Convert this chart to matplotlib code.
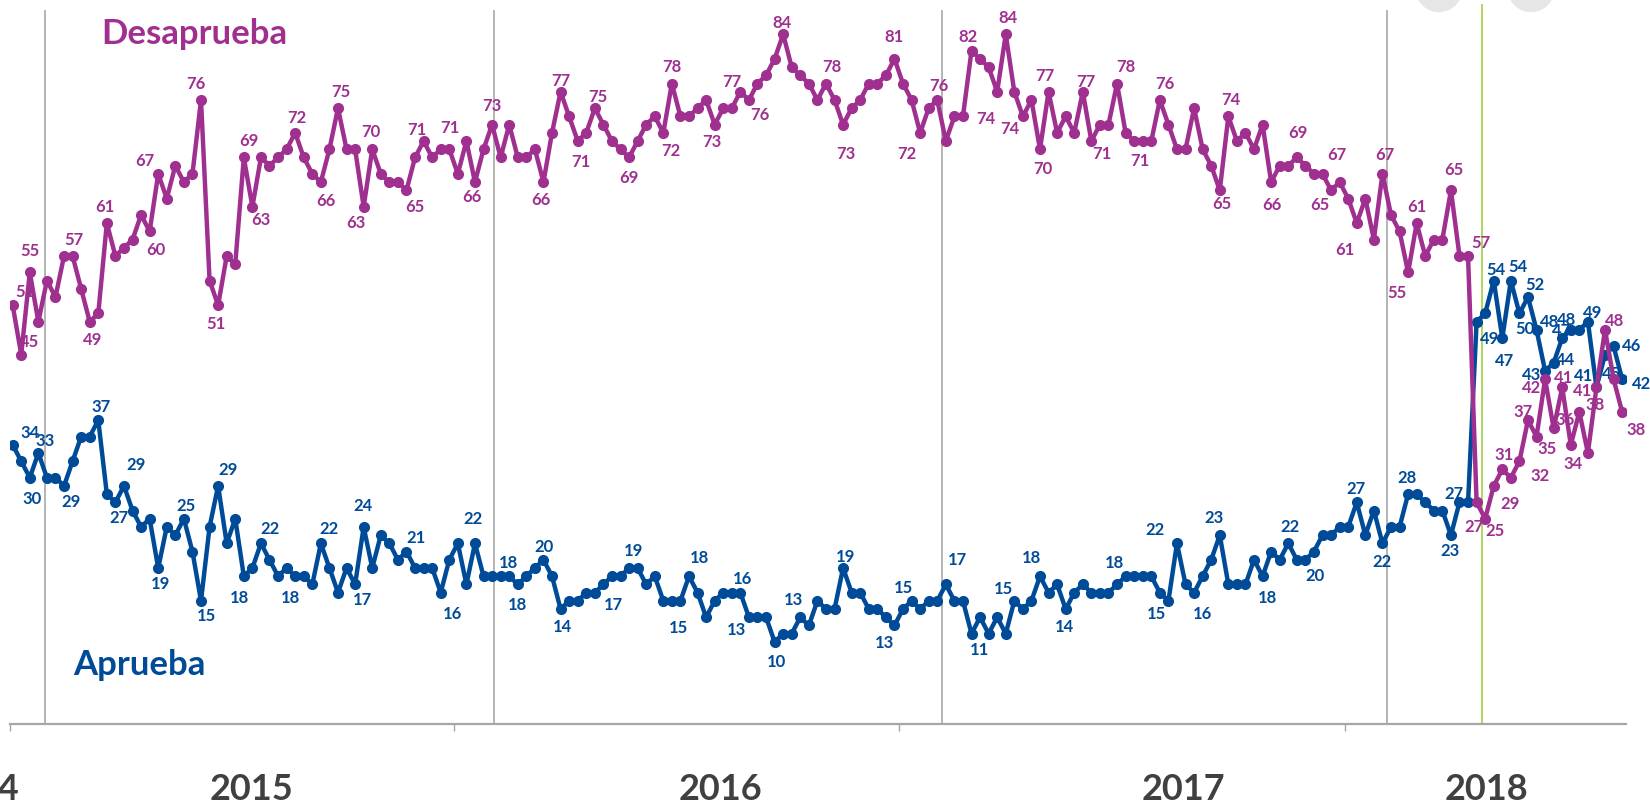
import numpy as np
import matplotlib
matplotlib.use('Agg')
import matplotlib.pyplot as plt
from matplotlib.patches import Ellipse

"""Aprobacion / desaprobacion semanal, 2014-2018"""

# weekly values, one per poll
desaprueba = [51, 45, 55, 49, 54, 52, 57, 57, 53, 49,
              50, 61, 57, 58, 59, 62, 60, 67, 64, 68,
              66, 67, 76, 54, 51, 57, 56, 69, 63, 69,
              68, 69, 70, 72, 69, 67, 66, 70, 75, 70,
              70, 63, 70, 67, 66, 66, 65, 69, 71, 69,
              70, 70, 67, 71, 66, 70, 73, 69, 73, 69,
              69, 70, 66, 72, 77, 74, 71, 72, 75, 73,
              71, 70, 69, 71, 73, 74, 72, 78, 74, 74,
              75, 76, 73, 75, 75, 77, 76, 78, 79, 81,
              84, 80, 79, 78, 76, 78, 76, 73, 75, 76,
              78, 78, 79, 81, 78, 76, 72, 75, 76, 71,
              74, 74, 82, 81, 80, 77, 84, 77, 74, 76,
              70, 77, 72, 74, 72, 77, 71, 73, 73, 78,
              72, 71, 71, 71, 76, 73, 70, 70, 75, 70,
              68, 65, 74, 71, 72, 70, 73, 66, 68, 68,
              69, 68, 67, 67, 65, 66, 64, 61, 64, 59,
              67, 62, 60, 55, 61, 57, 59, 59, 65, 57,
              57, 27, 25, 29, 31, 30, 32, 37, 35, 42,
              36, 41, 34, 38, 33, 41, 48, 42, 38]

aprueba = [34, 32, 30, 33, 30, 30, 29, 32, 35, 35,
           37, 28, 27, 29, 26, 24, 25, 19, 24, 23,
           25, 21, 15, 24, 29, 22, 25, 18, 19, 22,
           20, 18, 19, 18, 18, 17, 22, 19, 16, 19,
           17, 24, 19, 23, 22, 20, 21, 19, 19, 19,
           16, 20, 22, 17, 22, 18, 18, 18, 18, 17,
           18, 19, 20, 18, 14, 15, 15, 16, 16, 17,
           18, 18, 19, 19, 17, 18, 15, 15, 15, 18,
           16, 13, 15, 16, 16, 16, 13, 13, 13, 10,
           11, 11, 13, 12, 15, 14, 14, 19, 16, 16,
           14, 14, 13, 12, 14, 15, 14, 15, 15, 17,
           15, 15, 11, 13, 11, 13, 11, 15, 14, 15,
           18, 16, 17, 14, 16, 17, 16, 16, 16, 17,
           18, 18, 18, 18, 16, 15, 22, 17, 16, 18,
           20, 23, 17, 17, 17, 20, 18, 21, 20, 22,
           20, 20, 21, 23, 23, 24, 24, 27, 23, 26,
           22, 24, 24, 28, 28, 27, 26, 26, 23, 27,
           27, 49, 50, 54, 47, 54, 50, 52, 48, 43,
           44, 47, 48, 48, 49, 41, 45, 46, 42]

# which weeks carry a value label (1-based week, dx, dy in pixels, dy>0 = down)
desaprueba_labels = [(1, 12, -14), (2, 8, -14), (3, 0, -22), (8, 1, -17), (10, 3, 17),
                     (12, -2, -17), (17, 6, 18), (18, -13, -14), (23, -5, -17), (25, -2, 18),
                     (28, 5, -17), (29, 8, 12), (34, 2, -16), (37, 5, 18), (39, 3, -17),
                     (42, -8, 15), (43, -1, -18), (47, 8, 16), (49, -7, -12), (54, -17, -14),
                     (55, -3, 14), (57, 0, -20), (63, -3, 17), (65, 0, -12), (67, 3, 20),
                     (69, 3, -12), (73, 0, 20), (77, 8, 17), (78, 0, -18), (83, -3, 16),
                     (86, -8, -11), (87, 11, 14), (91, -1, -12), (96, 6, -18), (98, 3, 28),
                     (104, 0, -23), (107, -13, 20), (109, 2, -15), (112, 23, 2), (113, -4, -15),
                     (117, 2, -17), (119, -13, 12), (121, 3, 19), (122, -4, -17), (126, 3, -11),
                     (127, 11, 12), (130, 9, -18), (133, -3, 19), (135, 5, -17), (142, 2, 13),
                     (143, 3, -17), (148, 1, 22), (151, 1, -25), (154, 14, -20), (155, -11, 14),
                     (158, -12, 26), (161, 2, -20), (164, -11, 20), (165, 0, -17), (169, 3, -21),
                     (171, 13, -14), (172, -3, 24), (173, 10, 11), (174, 16, 17), (175, 2, -15),
                     (177, 21, 14), (178, -5, -9), (179, 11, 11), (180, -14, 8), (181, 11, -9),
                     (182, 1, -10), (183, 2, 18), (184, 16, -8), (186, -14, 3), (187, 10, -10),
                     (189, 14, 17)]

aprueba_labels = [(1, 17, -13), (3, 2, 20), (4, 7, -13), (7, 7, 15), (11, 3, -14),
                  (13, 4, 15), (14, 12, -22), (18, 2, 15), (21, 2, -14), (23, 5, 14),
                  (25, 10, -17), (28, -4, 21), (30, 9, -15), (34, -5, 21), (37, 8, -15),
                  (41, 7, 15), (42, -1, -22), (47, 10, -15), (51, 12, 20), (55, -2, -25),
                  (59, -1, -14), (61, -9, 28), (63, 1, -14), (65, 2, 17), (70, 10, 20),
                  (73, 4, -18), (79, -2, 26), (80, 10, -19), (86, 2, -15), (87, -12, 12),
                  (90, 2, 19), (93, -7, -18), (98, 2, -12), (103, -1, 25), (106, -8, -14),
                  (110, 12, -25), (113, 8, 15), (118, -11, -13), (121, -9, -19), (124, -1, 17),
                  (131, -11, -14), (136, -12, 12), (137, -22, -14), (139, 8, 20), (142, -6, -18),
                  (147, 5, 21), (150, 2, -17), (152, 10, 15), (158, -1, -14), (161, 0, 18),
                  (164, -1, -17), (169, -1, 15), (170, -5, -9), (172, 13, 16), (174, 2, -12),
                  (175, 2, 22), (176, 7, -15), (177, 6, 15), (178, 7, -13), (179, 13, -9),
                  (180, -14, 3), (181, 12, -4), (182, -1, -8), (183, -4, -11), (185, 5, -10),
                  (186, -13, -12), (187, 7, 18), (188, 18, -1), (189, 19, 4)]

# x axis: year boundaries (week index), small ticks, year label centres
year_lines = [3.8, 56.2, 108.5, 160.5]
small_ticks = [-0.37, 51.55, 103.5, 155.6]
year_names = ['2014', '2015', '2016', '2017', '2018']
year_pos = [-4.05, 27.9, 82.7, 136.7, 172.1]
marker_week = 171.65  # cambio de gobierno

PURPLE = '#A03090'
BLUE = '#004B98'

plt.rcParams['font.family'] = ['Lato', 'DejaVu Sans']

fig = plt.figure(figsize=(16.5, 8.04), dpi=100)
ax = fig.add_axes([9.5/1650, 79/804, (1626-9.5)/1650, 725/804])

weeks = np.arange(len(desaprueba))

ax.vlines(year_lines, -0.35, 87, color='#A0A0A0', lw=1.1, zorder=1)
ax.vlines(marker_week, 0, 87.7, color='#9ACD32', lw=1.1, zorder=1)

ax.plot(weeks, aprueba, color=BLUE, lw=3.2, marker='o', ms=7, zorder=3)
ax.plot(weeks, desaprueba, color=PURPLE, lw=3.2, marker='o', ms=7, zorder=4)

for series, labels, col in [(desaprueba, desaprueba_labels, PURPLE),
                            (aprueba, aprueba_labels, BLUE)]:
    for n, dx, dy in labels:
        ax.annotate(str(series[n-1]), (n-1, series[n-1]), xytext=(dx, -dy),
                    textcoords='offset pixels', ha='center', va='center',
                    fontsize=12, fontweight='bold', color=col, zorder=2)

ax.set_xlim(-0.37, 188.45)
ax.set_ylim(0, 88.3)
for s in ['top', 'right', 'left']:
    ax.spines[s].set_visible(False)
ax.spines['bottom'].set_color('#A6A6A6')
ax.spines['bottom'].set_linewidth(1.6)
ax.set_yticks([])
ax.set_xticks(small_ticks)
ax.set_xticklabels([])
ax.tick_params(axis='x', length=5, width=1, color='#A6A6A6', direction='out')

for name, pos in zip(year_names, year_pos):
    ax.text(pos, -7.8, name, ha='center', va='center', fontsize=26,
            fontweight='bold', color='#404040', clip_on=False)

fig.text(194.5/1650, 1-34/804, 'Desaprueba', ha='center', va='center',
         fontsize=25, fontweight='bold', color=PURPLE)
fig.text(139.5/1650, 1-665/804, 'Aprueba', ha='center', va='center',
         fontsize=25, fontweight='bold', color=BLUE)

# grey player buttons cut at the top edge
for cx in [1439, 1531]:
    fig.patches.append(Ellipse((cx/1650, 1+10.5/804), 46/1650, 46/804,
                               transform=fig.transFigure, color='#E6E6E6', zorder=0))

fig.savefig('out.png', dpi=100)
